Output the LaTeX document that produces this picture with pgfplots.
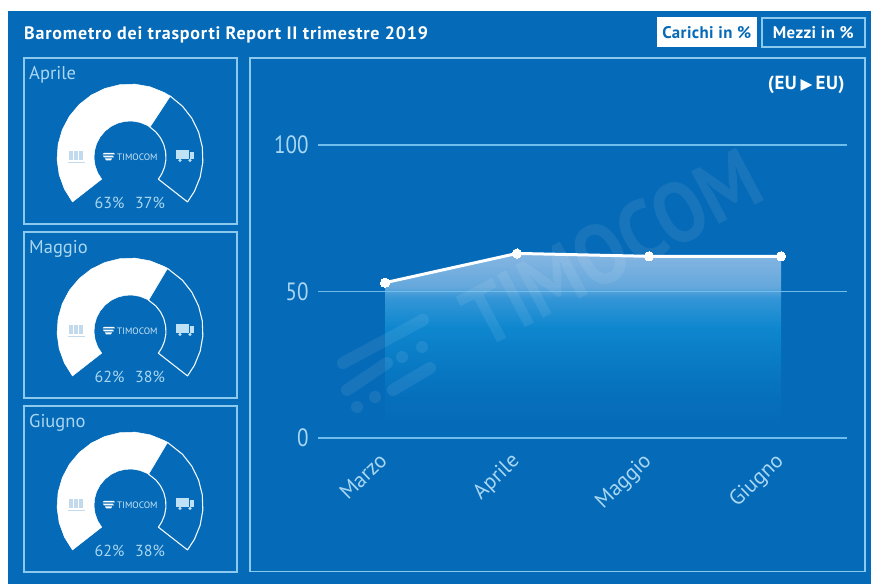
\documentclass[border=0pt]{standalone}
\usepackage{fontspec}
\setmainfont{PT Sans}
\newfontfamily\symf{DejaVu Sans}
\newfontfamily\narrow[FakeStretch=0.84]{PT Sans}
\newfontfamily\tracked[LetterSpace=4.3]{PT Sans}
\newfontfamily\tracksmall[LetterSpace=2.5]{PT Sans}
\usepackage{pgfplots}
\usepackage{pgfplotstable}
\pgfplotsset{compat=1.18}
\usepgfplotslibrary{polar}
\definecolor{bg}{HTML}{056AB7}
\definecolor{brd}{HTML}{8CC9EE}
\definecolor{lab}{HTML}{A9D7F2}
\definecolor{gl}{HTML}{6FBDEB}
\definecolor{aa}{HTML}{85B6E2}
\definecolor{ab}{HTML}{65A8DC}
\definecolor{ac}{HTML}{3596D7}
\definecolor{ad}{HTML}{0E87CF}
\definecolor{ae}{HTML}{0A7CC6}
\definecolor{af}{HTML}{0670BD}
\pgfdeclareverticalshading{areafade}{100bp}{
  color(0bp)=(bg); color(27bp)=(bg); color(37bp)=(af); color(47bp)=(ae);
  color(55bp)=(ad); color(63bp)=(ac); color(66bp)=(ab); color(75bp)=(aa); color(100bp)=(aa)}

\pgfplotstableread{
a r
218 73
206 73
194 73
182 73
170 73
158 73
146 73
134 73
122 73
110 73
98 73
86 73
74 73
62 73
56.72 73
56.72 36
62 36
74 36
86 36
98 36
110 36
122 36
134 36
146 36
158 36
170 36
182 36
194 36
206 36
218 36
218 73
}\whiteA
\pgfplotstableread{
a r
56.72 73
44 73
32 73
20 73
8 73
-4 73
-16 73
-28 73
-38 73
-38 36
-28 36
-16 36
-4 36
8 36
20 36
32 36
44 36
56.72 36
56.72 73
}\blueA
\pgfplotstableread{
a r
218 73
206 73
194 73
182 73
170 73
158 73
146 73
134 73
122 73
110 73
98 73
86 73
74 73
62 73
59.28 73
59.28 36
62 36
74 36
86 36
98 36
110 36
122 36
134 36
146 36
158 36
170 36
182 36
194 36
206 36
218 36
218 73
}\whiteB
\pgfplotstableread{
a r
59.28 73
44 73
32 73
20 73
8 73
-4 73
-16 73
-28 73
-38 73
-38 36
-28 36
-16 36
-4 36
8 36
20 36
32 36
44 36
59.28 36
59.28 73
}\blueB

\newcommand{\fs}[1]{\fontsize{#1}{#1}\selectfont}

\newcommand{\gauge}[6]{% y-offset, month, white, blue, v1, v2
  \begin{scope}[shift={(0,-#1)}]
    \draw[brd,line width=1.3pt] (24,526) rectangle (237,360);
    \node[anchor=west,text=lab,inner sep=0] at (29,509.5) {\fs{18.5}#2};
    \node[text=lab,inner sep=0] at (109.5,381) {\fs{16}#5\%};
    \node[text=lab,inner sep=0] at (150,381) {\fs{16}#6\%};
  \end{scope}
  \begin{polaraxis}[at={(130pt,{427pt-#1pt})},anchor=center,scale only axis,
      width=150pt,height=150pt,xmin=0,xmax=360,ymin=0,ymax=75,hide axis,clip=false]
    \addplot[fill=white,draw=white,line width=0.5pt,mark=none] table[x=a,y=r]{#3};
    \addplot[draw=white!85!lab,line width=1.1pt,line join=round,mark=none] table[x=a,y=r]{#4};
  \end{polaraxis}
  \begin{scope}[shift={(0,-#1)}]
    % logo
    \node[text=lab!60!white,inner sep=0,anchor=west] at (117,427) {\fs{9.3}TIMOCOM};
    \fill[white] (102.5,429.5)--(115,429.5)--(114,431)--(104,431)--cycle;
    \fill[white] (104,426.5)--(114,426.5)--(113,428.4)--(103,428.4)--cycle;
    \fill[white] (106,423.5)--(111,423.5)--(112,425.5)--(105,425.5)--cycle;
    % crates
    \foreach \xx in {69,74,79}{\fill[bg!25!white] (\xx,423.5) rectangle (\xx+4.2,433);}
    \fill[bg!25!white] (68,420.5) rectangle (84.5,422.2);
    % truck
    \fill[lab!75!white] (176,425) rectangle (188.5,434);
    \fill[lab!75!white] (189.5,425) rectangle (194,431.5);
    \fill[lab!75!white] (180,423.6) circle (1.8);
    \fill[lab!75!white] (190,423.6) circle (1.8);
  \end{scope}
}

\begin{document}
\begin{tikzpicture}[x=1pt,y=1pt]
\fill[white] (0,0) rectangle (871,584);
\fill[bg] (8,0) rectangle (871,573);

\node[anchor=base west,text=white,inner sep=0] at (24,544) {\tracked\fs{18}\textbf{Barometro dei trasporti Report II trimestre 2019}};

% buttons
\fill[white] (657,537) rectangle (757,567);
\node[text=bg,inner sep=0] at (707,551.5) {\tracksmall\fs{16.8}\textbf{Carichi in \%}};
\draw[brd,line width=1.3pt] (762,537) rectangle (865,566);
\node[text=white,inner sep=0] at (813.5,551.5) {\tracksmall\fs{16.8}\textbf{Mezzi in \%}};

% panels
\draw[brd,line width=1.3pt] (250,526) rectangle (865,12.5);
\node[text=white,inner sep=0] at (806.5,499) {\tracksmall\fs{19}\textbf{(EU}\,{\symf\fs{15.5}▶}\,\textbf{EU)}};

\gauge{0}{Aprile}{\whiteA}{\blueA}{63}{37}
\gauge{174}{Maggio}{\whiteB}{\blueB}{62}{38}
\gauge{348}{Giugno}{\whiteB}{\blueB}{62}{38}

\begin{axis}[at={(318pt,146pt)},anchor=south west,scale only axis,
    width=529pt,height=293pt,
    xmin=-0.5076,xmax=3.5,ymin=0,ymax=100,
    axis line style={draw=none},
    xtick={0,1,2,3},xticklabels={Marzo,Aprile,Maggio,Giugno},
    ytick={0,50,100},
    major tick length=0pt,
    ymajorgrids,xmajorgrids=false,
    grid style={gl,line width=1.3pt},
    clip=false,
    axis on top=true,
    /pgf/number format/assume math mode=true,
    yticklabel style={text=lab,font=\narrow\fs{25},xshift=-6pt},
    xticklabel style={text=lab,font=\fs{21.5},rotate=44,anchor=north east,yshift=-1pt,xshift=-11pt},
  ]
  \addplot[draw=none,shade,shading=areafade,forget plot]
     coordinates {(0,53)(1,63)(2,62)(3,62)(3,0)(0,0)(0,53)};
  \addplot[white,line width=3pt,mark=*,mark size=4.6pt,mark options={fill=white,draw=white,line width=0pt}]
     coordinates {(0,53)(1,63)(2,62)(3,62)};
\end{axis}

% watermark
\begin{scope}[opacity=0.08]
  \node[text=white,inner sep=0,rotate=28] at (612,336) {\scalebox{.88}[1]{\fs{85}\textbf{TIMOCOM}}};
  \draw[white,line width=12pt,line cap=round] (343,221)--(423,264);
  \draw[white,line width=12pt,line cap=round] (347,194)--(387,221);
  \draw[white,line width=12pt,line cap=round] (393,194)--(430,216);
  \fill[white] (402,227) circle (6);
  \fill[white] (422,237) circle (6);
  \fill[white] (357,177) circle (6);
  \fill[white] (375,187) circle (6);
\end{scope}
\end{tikzpicture}
\end{document}
